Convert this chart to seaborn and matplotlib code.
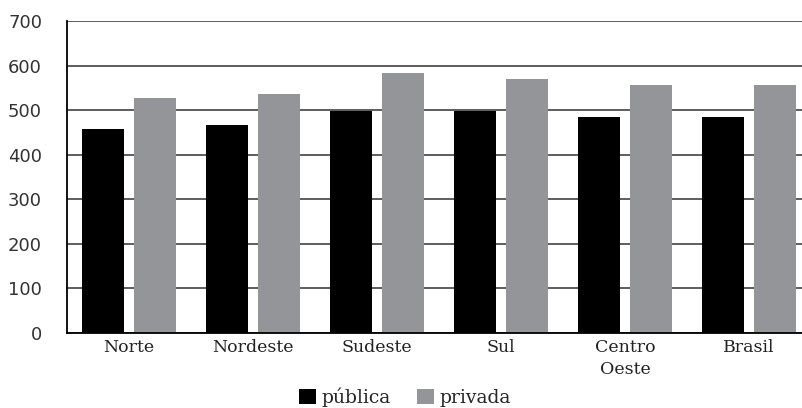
import pandas as pd
import matplotlib
matplotlib.use("Agg")
import matplotlib.pyplot as plt
import seaborn as sns
from matplotlib.patches import Patch

# Data
regioes = ["Norte", "Nordeste", "Sudeste", "Sul", "Centro\nOeste", "Brasil"]
publica = [458, 467, 498, 498, 485, 485]
privada = [527, 536, 584, 570, 556, 556]
series = ["pública", "privada"]
cores = ["#000000", "#949599"]

df = pd.DataFrame({
    "regiao": regioes * 2,
    "rede": [series[0]] * len(regioes) + [series[1]] * len(regioes),
    "nota": publica + privada,
})

sns.set_theme(style="white")
serif = "DejaVu Serif"

fig = plt.figure(figsize=(8.02, 4.08), dpi=100)
ax = fig.add_axes([67 / 802, 75 / 408, 744 / 802, 312 / 408])

sns.barplot(data=df, x="regiao", y="nota", hue="rede", palette=cores,
            width=0.84, gap=0.19, saturation=1, legend=False, ax=ax,
            linewidth=0, errorbar=None)

ax.set_ylim(0, 700)
ax.set_yticks(range(0, 701, 100))
ax.yaxis.grid(True, color="#505050", linewidth=1.3)
ax.set_axisbelow(True)
ax.set_xlabel("")
ax.set_ylabel("")

for side in ["top", "right"]:
    ax.spines[side].set_visible(False)
for side in ["left", "bottom"]:
    ax.spines[side].set_color("#000000")
    ax.spines[side].set_linewidth(1.3)

ax.tick_params(axis="y", length=0, pad=18, labelsize=13, labelcolor="#333333")
ax.tick_params(axis="x", length=0, pad=4, labelsize=12.5, labelcolor="#222222")
for lbl in ax.get_yticklabels():
    lbl.set_fontfamily("DejaVu Sans")
for lbl in ax.get_xticklabels():
    lbl.set_fontfamily(serif)
    lbl.set_linespacing(1.4)

handles = [Patch(facecolor=c, edgecolor="none", label=s) for s, c in zip(series, cores)]
fig.legend(handles=handles, loc="center", bbox_to_anchor=(405 / 802, 1 - 397 / 408),
           ncol=2, frameon=False, handlelength=0.9, handleheight=0.9,
           handletextpad=0.3, columnspacing=1.4,
           prop={"family": serif, "size": 13.5})

fig.savefig("out.png", dpi=100)
